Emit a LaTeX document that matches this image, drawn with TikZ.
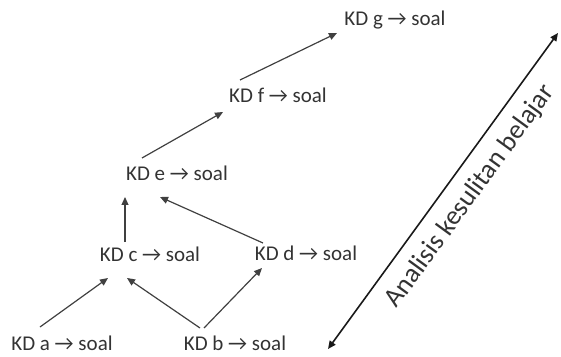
\documentclass[tikz,border=0pt]{standalone}
\usepackage{fontspec}
\setmainfont{Carlito}
\usetikzlibrary{arrows.meta,calc}
\begin{document}
\begin{tikzpicture}[x=1pt,y=1pt,
  kd/.style={inner sep=0pt,text=black!80,font=\fontsize{21}{24}\selectfont},
  link/.style={draw=black!75,line width=1.2pt,-{Triangle[length=8pt,width=7pt]}},
  span/.style={draw=black!90,line width=1.6pt,{Triangle[length=8pt,width=7pt]}-{Triangle[length=8pt,width=7pt]}},
  axis label/.style={inner sep=0pt,text=black!80,font=\fontsize{27}{30}\selectfont}]
\useasboundingbox (0,0) rectangle (561,356);
\node[kd] (a) at (62,13) {KD a → soal};
\node[kd] (b) at (235,13) {KD b → soal};
\node[kd] (c) at (150,102) {KD c → soal};
\node[kd] (d) at (306,103) {KD d → soal};
\node[kd] (e) at (177,183) {KD e → soal};
\node[kd] (f) at (278,261) {KD f → soal};
\node[kd] (g) at (395,336) {KD g → soal};
\coordinate (lo) at (328,7);
\coordinate (hi) at (558,323);
\draw[link] ($(a.center)+(-22,16)$) -- ($(c.center)+(-42,-24)$);
\draw[link] ($(b.center)+(-35,15)$) -- ($(c.center)+(-23,-24)$);
\draw[link] ($(b.center)+(-31,15)$) -- ($(d.center)+(-44,-15)$);
\draw[link] ($(c.center)+(-25,12)$) -- ($(e.center)+(-52,-24)$);
\draw[link] ($(d.center)+(-43,10)$) -- ($(e.center)+(-17,-24)$);
\draw[link] ($(e.center)+(-35,15)$) -- ($(f.center)+(-55,-17)$);
\draw[link] ($(f.center)+(-38,15)$) -- ($(g.center)+(-58,-13)$);
\draw[span] (lo) -- node[axis label,sloped,pos=0.53,yshift=-25pt] (t) {Analisis kesulitan belajar} (hi);
\end{tikzpicture}
\end{document}
